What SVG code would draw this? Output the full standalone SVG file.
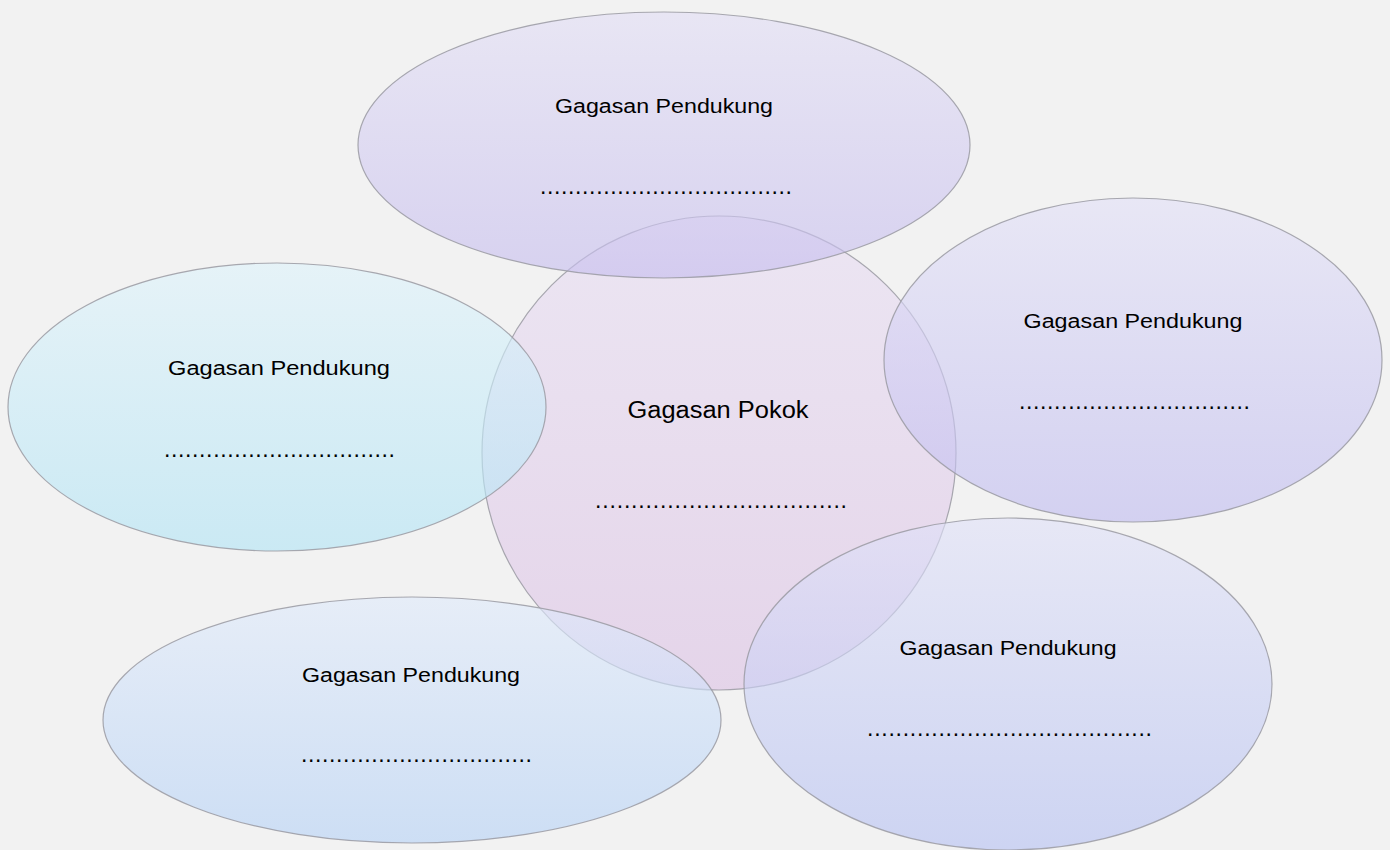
<svg xmlns="http://www.w3.org/2000/svg" width="1390" height="850" viewBox="0 0 1390 850">
<style>
.node ellipse{stroke:#9a9aa2;stroke-width:1.2;stroke-opacity:0.85;fill-opacity:0.62}
.lbl{font-family:"Liberation Sans",Arial,sans-serif;font-size:20px;fill:#000;text-anchor:middle}
.big{font-size:23px}
.dots{font-family:"Liberation Sans",Arial,sans-serif;font-size:23px;fill:#000}
</style>
<defs>
<linearGradient id="gTop" x1="0" y1="0" x2="0" y2="1"><stop offset="0" stop-color="#e2def5"/><stop offset="1" stop-color="#c6bdee"/></linearGradient>
<linearGradient id="gLeft" x1="0" y1="0" x2="0" y2="1"><stop offset="0" stop-color="#def3fb"/><stop offset="1" stop-color="#b2e4f5"/></linearGradient>
<linearGradient id="gCenter" x1="0" y1="0" x2="0" y2="1"><stop offset="0" stop-color="#e8def3"/><stop offset="1" stop-color="#dcc2e4"/></linearGradient>
<linearGradient id="gRight" x1="0" y1="0" x2="0" y2="1"><stop offset="0" stop-color="#e2e0f7"/><stop offset="1" stop-color="#c0bcf0"/></linearGradient>
<linearGradient id="gBL" x1="0" y1="0" x2="0" y2="1"><stop offset="0" stop-color="#dfeafb"/><stop offset="1" stop-color="#b6d2f6"/></linearGradient>
<linearGradient id="gBR" x1="0" y1="0" x2="0" y2="1"><stop offset="0" stop-color="#e0e1f8"/><stop offset="1" stop-color="#b6c1f2"/></linearGradient>
</defs>
<rect width="1390" height="850" fill="#f2f2f2"/>
<g id="center" class="node"><ellipse cx="719" cy="453" rx="237" ry="237" fill="url(#gCenter)"/></g>
<g id="top" class="node"><ellipse cx="664" cy="145" rx="306" ry="133" fill="url(#gTop)"/></g>
<g id="left" class="node"><ellipse cx="277" cy="407" rx="269" ry="144" fill="url(#gLeft)"/></g>
<g id="right" class="node"><ellipse cx="1133" cy="360" rx="249" ry="162" fill="url(#gRight)"/></g>
<g id="bottomleft" class="node"><ellipse cx="412" cy="720" rx="309" ry="123" fill="url(#gBL)"/></g>
<g id="bottomright" class="node"><ellipse cx="1008" cy="684" rx="264" ry="166" fill="url(#gBR)"/></g>
<g id="texts">
<text class="lbl" x="664" y="113" textLength="218" lengthAdjust="spacingAndGlyphs">Gagasan Pendukung</text>
<text class="dots" x="540" y="194" textLength="252" lengthAdjust="spacing">....................................</text>
<text class="lbl" x="279" y="375" textLength="222" lengthAdjust="spacingAndGlyphs">Gagasan Pendukung</text>
<text class="dots" x="164" y="457" textLength="231" lengthAdjust="spacing">.................................</text>
<text class="lbl big" x="718" y="418" textLength="181" lengthAdjust="spacingAndGlyphs">Gagasan Pokok</text>
<text class="dots" x="595" y="508" textLength="252" lengthAdjust="spacing">...................................</text>
<text class="lbl" x="1133" y="328" textLength="219" lengthAdjust="spacingAndGlyphs">Gagasan Pendukung</text>
<text class="dots" x="1019" y="409" textLength="231" lengthAdjust="spacing">.................................</text>
<text class="lbl" x="411" y="682" textLength="218" lengthAdjust="spacingAndGlyphs">Gagasan Pendukung</text>
<text class="dots" x="301" y="762" textLength="231" lengthAdjust="spacing">.................................</text>
<text class="lbl" x="1008" y="655" textLength="217" lengthAdjust="spacingAndGlyphs">Gagasan Pendukung</text>
<text class="dots" x="867" y="736" textLength="285" lengthAdjust="spacing">........................................</text>
</g>
</svg>
